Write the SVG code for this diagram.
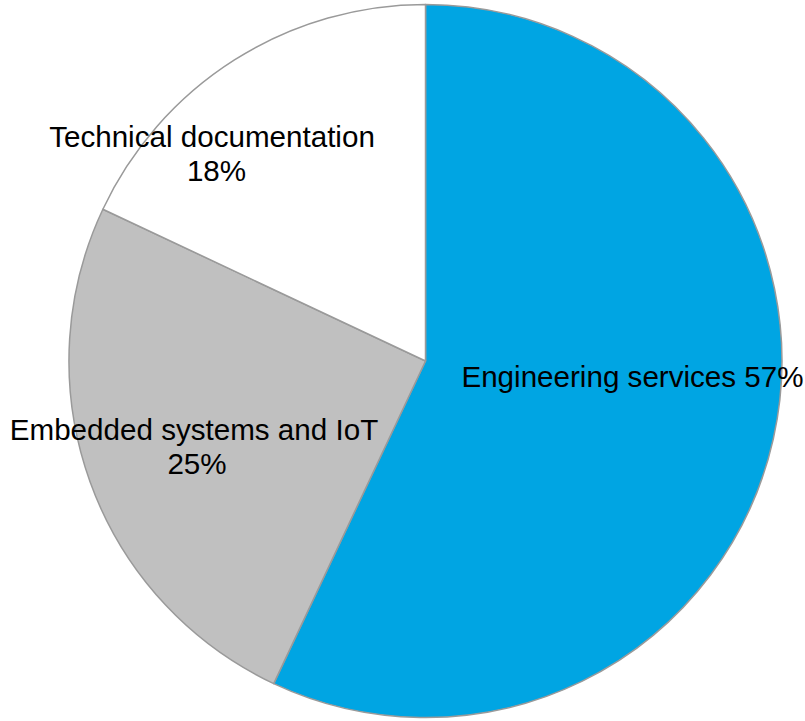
<svg xmlns="http://www.w3.org/2000/svg" width="805" height="721" viewBox="0 0 805 721">
<style>
.slice{stroke:#9a9a9a;stroke-width:1.5;stroke-linejoin:round}
.lbl{font-family:"Liberation Sans",Arial,sans-serif;font-size:29.6px;fill:#000;text-anchor:middle}
</style>
<rect width="805" height="721" fill="#ffffff"/>
<g id="slice-engineering">
<path class="slice" fill="#00A5E3" d="M425.5,361 L425.5,4.5 A356.5,356.5 0 1 1 273.7,683.6 Z"/>
<text class="lbl" x="632.5" y="387">Engineering services 57%</text>
</g>
<g id="slice-embedded">
<path class="slice" fill="#C0C0C0" d="M425.5,361 L273.7,683.6 A356.5,356.5 0 0 1 102.9,209.2 Z"/>
<text class="lbl" x="194" y="439.5">Embedded systems and IoT</text>
<text class="lbl" x="197" y="473.5">25%</text>
</g>
<g id="slice-technical">
<path class="slice" fill="#FFFFFF" d="M425.5,361 L102.9,209.2 A356.5,356.5 0 0 1 425.5,4.5 Z"/>
<text class="lbl" x="212" y="147">Technical documentation</text>
<text class="lbl" x="216.5" y="181">18%</text>
</g>
</svg>
